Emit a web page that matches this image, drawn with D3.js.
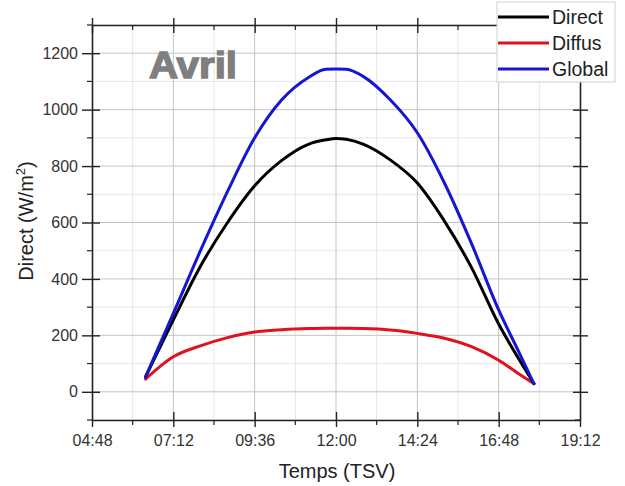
<!DOCTYPE html>
<html>
<head>
<meta charset="utf-8">
<script src="https://cdn.jsdelivr.net/npm/d3@7"></script>
<style>
  body { margin: 0; background: #fff; }
  text { font-family: "Liberation Sans", Arial, sans-serif; }
</style>
</head>
<body>
<script>
// time of day in decimal hours (TSV)
var hours   = [6.38, 7.2, 8.0, 8.8, 9.6, 10.4, 11.2, 11.7, 12.0, 12.3, 12.8, 13.6, 14.4, 15.2, 16.0, 16.8, 17.4, 17.84];
var direct  = [53, 255, 445, 600, 730, 820, 878, 893, 898, 895, 878, 822, 740, 605, 440, 240, 115, 29];
var diffus  = [45, 124, 163, 192, 212, 220, 224, 225, 225, 225, 224, 219, 207, 190, 160, 112, 63, 29];
var global  = [53, 278, 500, 710, 900, 1035, 1115, 1143, 1144, 1143, 1118, 1035, 918, 740, 525, 290, 140, 29];

var xTickLabels = ["04:48", "07:12", "09:36", "12:00", "14:24", "16:48", "19:12"];
var yTicks = [0, 200, 400, 600, 800, 1000, 1200];
var seriesNames = ["Direct", "Diffus", "Global"];

var W = 625, H = 486;
var margin = {top: 25, right: 45, bottom: 66, left: 92};
var width = W - margin.left - margin.right,
    height = H - margin.top - margin.bottom;

function toHours(s) {
  var p = s.split(":");
  return +p[0] + (+p[1]) / 60;
}
var xTicks = xTickLabels.map(toHours);
var xMinor = [];
for (var i = 0; i < xTicks.length - 1; i++) xMinor.push((xTicks[i] + xTicks[i + 1]) / 2);
var yMinor = d3.range(-100, 1301, 200);

var svg = d3.select("body").append("svg")
  .attr("width", W)
  .attr("height", H);

var g = svg.append("g")
  .attr("transform", "translate(" + margin.left + "," + margin.top + ")");

var x = d3.scaleLinear().domain([4.8, 19.2]).range([0, width]);
var y = d3.scaleLinear().domain([-100, 1300]).range([height, 0]);

// grid lines
g.selectAll(".vminor").data(xMinor).enter().append("line")
  .attr("x1", d => x(d)).attr("x2", d => x(d))
  .attr("y1", 0).attr("y2", height)
  .attr("stroke", "#e6e6e6").attr("stroke-width", 1);
g.selectAll(".hminor").data(yMinor).enter().append("line")
  .attr("y1", d => y(d)).attr("y2", d => y(d))
  .attr("x1", 0).attr("x2", width)
  .attr("stroke", "#e6e6e6").attr("stroke-width", 1);
g.selectAll(".vmajor").data(xTicks.slice(1, -1)).enter().append("line")
  .attr("x1", d => x(d)).attr("x2", d => x(d))
  .attr("y1", 0).attr("y2", height)
  .attr("stroke", "#c4c4c4").attr("stroke-width", 1);
g.selectAll(".hmajor").data(yTicks).enter().append("line")
  .attr("y1", d => y(d)).attr("y2", d => y(d))
  .attr("x1", 0).attr("x2", width)
  .attr("stroke", "#c4c4c4").attr("stroke-width", 1);

// curves
var cols = ["#000000", "#e0121e", "#1616d2"];
var vals = [direct, diffus, global];
var order = [1, 0, 2];
order.forEach(function(k) {
  var pts = hours.map(function(h, i) { return [h, vals[k][i]]; });
  var line = d3.line()
    .x(d => x(d[0]))
    .y(d => y(d[1]))
    .curve(d3.curveMonotoneX);
  g.append("path")
    .datum(pts)
    .attr("fill", "none")
    .attr("stroke", cols[k])
    .attr("stroke-width", 3)
    .attr("stroke-linejoin", "round")
    .attr("stroke-linecap", "round")
    .attr("d", line);
});

// axes (frame with crossing ticks)
var axisCol = "#222";
function frameAxis(sel, gen) {
  sel.call(gen);
  sel.select(".domain").attr("stroke", axisCol).attr("stroke-width", 1.6);
  sel.selectAll(".tick line").attr("stroke", axisCol).attr("stroke-width", 1.4);
}

var bottomAx = g.append("g").attr("transform", "translate(0," + height + ")");
frameAxis(bottomAx, d3.axisBottom(x).tickValues(xTicks).tickSize(7).tickSizeOuter(0)
  .tickFormat((d, i) => xTickLabels[i]));
bottomAx.selectAll(".tick line").attr("y1", -8);
bottomAx.selectAll(".tick text").attr("dy", "1em").attr("font-size", 16).attr("fill", "#333");
bottomAx.selectAll(".tick").filter((d, i) => i == 0 || i == xTicks.length - 1).select("line").attr("y1", 0);
bottomAx.append("g").selectAll("line").data(xMinor).enter().append("line")
  .attr("x1", d => x(d)).attr("x2", d => x(d)).attr("y1", 0).attr("y2", 5)
  .attr("stroke", axisCol).attr("stroke-width", 1.2);

var leftAx = g.append("g");
frameAxis(leftAx, d3.axisLeft(y).tickValues(yTicks).tickSize(10).tickSizeOuter(0).tickFormat(d3.format("d")));
leftAx.selectAll(".tick line").attr("x1", 8);
leftAx.selectAll(".tick text").attr("font-size", 16).attr("fill", "#333").attr("dx", "-1");
leftAx.append("g").selectAll("line").data(yMinor).enter().append("line")
  .attr("y1", d => y(d)).attr("y2", d => y(d)).attr("x1", -5).attr("x2", 0)
  .attr("stroke", axisCol).attr("stroke-width", 1.2);

var topAx = g.append("g");
frameAxis(topAx, d3.axisTop(x).tickValues(xTicks).tickSize(7).tickSizeOuter(0).tickFormat(""));
topAx.selectAll(".tick line").attr("y1", 8);
topAx.append("g").selectAll("line").data(xMinor).enter().append("line")
  .attr("x1", d => x(d)).attr("x2", d => x(d)).attr("y1", 0).attr("y2", 5)
  .attr("stroke", axisCol).attr("stroke-width", 1.2);

var rightAx = g.append("g").attr("transform", "translate(" + width + ",0)");
frameAxis(rightAx, d3.axisRight(y).tickValues(yTicks).tickSize(8).tickSizeOuter(0).tickFormat(""));
rightAx.selectAll(".tick line").attr("x1", -7);
rightAx.append("g").selectAll("line").data(yMinor).enter().append("line")
  .attr("y1", d => y(d)).attr("y2", d => y(d)).attr("x1", -5).attr("x2", 0)
  .attr("stroke", axisCol).attr("stroke-width", 1.2);

// axis titles
svg.append("text")
  .attr("x", 337)
  .attr("y", 478)
  .attr("text-anchor", "middle")
  .attr("font-size", 20)
  .attr("fill", "#222")
  .text("Temps (TSV)");

var yt = svg.append("text")
  .attr("transform", "translate(33,221) rotate(-90)")
  .attr("text-anchor", "middle")
  .attr("font-size", 20)
  .attr("fill", "#222");
yt.append("tspan").text("Direct (W/m");
yt.append("tspan").attr("font-size", 13).attr("dy", -8).text("2");
yt.append("tspan").attr("dy", 8).text(")");

// month label
svg.append("text")
  .attr("x", 149)
  .attr("y", 78)
  .attr("font-family", "'DejaVu Sans', sans-serif")
  .attr("font-weight", "bold")
  .attr("font-size", 37)
  .attr("textLength", 88)
  .attr("lengthAdjust", "spacingAndGlyphs")
  .attr("fill", "#7f7f7f")
  .attr("stroke", "#7f7f7f")
  .attr("stroke-width", 1.4)
  .text("Avril");

// legend
var lg = svg.append("g").attr("transform", "translate(497,2)");
lg.append("rect")
  .attr("width", 118).attr("height", 80)
  .attr("fill", "#fff")
  .attr("stroke", "#cfcfcf").attr("stroke-width", 1);
seriesNames.forEach(function(n, i) {
  var yy = 15 + i * 26;
  lg.append("line")
    .attr("x1", 1).attr("x2", 52)
    .attr("y1", yy).attr("y2", yy)
    .attr("stroke", cols[i]).attr("stroke-width", 3);
  lg.append("text")
    .attr("x", 55).attr("y", yy + 7)
    .attr("font-size", 19.5)
    .attr("fill", "#222")
    .text(n);
});
</script>
</body>
</html>
